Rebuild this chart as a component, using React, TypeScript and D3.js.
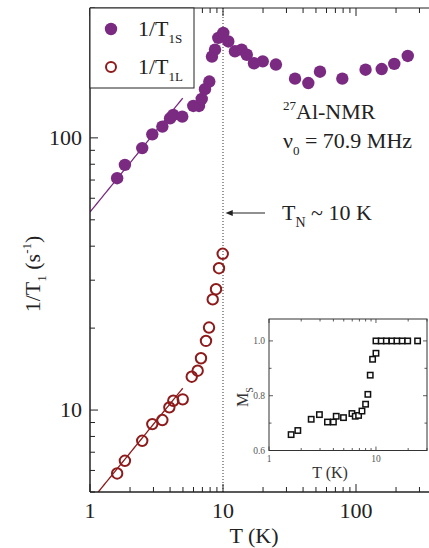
import React from 'react';
import * as d3 from 'd3';

// 1/T1S (purple, filled)
const sT = [1.60, 1.83, 2.47, 2.94, 3.50, 4.0, 4.23, 4.94, 5.98, 6.6, 6.92, 7.32, 7.89, 8.26, 8.71, 9.22, 10.05, 10.96, 12.3, 13.8, 15.1, 17.1, 19.9, 25.0, 34.8, 43.8, 53.6, 78.9, 118, 156, 194, 245];
const sV = [71.1, 79.6, 91.7, 103, 110, 118, 121.5, 119.7, 131, 131, 139, 151, 161, 199, 211, 233, 243, 226, 208, 211, 202, 188, 191, 186, 165, 159, 175, 165, 178, 179, 187, 200];
// 1/T1L (red, open)
const lT = [1.60, 1.83, 2.47, 2.94, 3.50, 3.95, 4.23, 4.98, 5.82, 6.45, 6.83, 7.45, 7.85, 8.37, 8.86, 9.33, 9.95];
const lV = [5.85, 6.51, 7.71, 8.88, 9.19, 10.23, 10.82, 10.95, 13.26, 13.95, 15.5, 17.95, 20.1, 25.5, 27.8, 33.2, 37.5];
// power-law fits  A * T^0.6
const fitS = { a: 53.4, p: 0.6, t0: 1, t1: 4.98 };
const fitL = { a: 4.59, p: 0.6, t0: 1.0, t1: 4.98 };
// inset M_S
const iT = [1.61, 1.86, 2.48, 2.96, 3.52, 4.0, 4.25, 4.97, 5.96, 6.4, 6.88, 7.4, 8.0, 8.4, 8.84, 9.3, 10.0, 10.0, 11.2, 12.5, 14.1, 15.7, 17.6, 19.8, 24.5];
const iM = [0.658, 0.673, 0.714, 0.731, 0.704, 0.704, 0.725, 0.72, 0.735, 0.725, 0.728, 0.744, 0.769, 0.805, 0.875, 0.933, 0.955, 1.0, 1.0, 1.0, 1.0, 1.0, 1.0, 1.0, 1.0];

const xTickLabels = [1, 10, 100];
const yTickLabels = [10, 100];
const insetYLabels = [0.6, 0.8, 1.0];
const insetXLabels = [1, 10];

const PURPLE = '#7b2a82';
const RED = '#8e1b1b';
const FONT = '"Liberation Serif", "Times New Roman", serif';

export default function App() {
  const W = 429, H = 548;
  const x = d3.scaleLog().domain([1, 400]).range([90, 90 + 133 * Math.log10(400)]);
  const y = d3.scaleLog().domain([5, 300]).range([492, 8]);
  const xi = d3.scaleLog().domain([1, 30]).range([269, 427]);
  const yi = d3.scaleLinear().domain([0.6, 1.08]).range([450.5, 319]);

  const xMinor: number[] = [];
  [1, 10, 100].forEach((d) => { for (let k = 1; k <= 9; k++) { const v = d * k; if (v <= 400) xMinor.push(v); } });
  const yMinor: number[] = [];
  [1, 10, 100].forEach((d) => { for (let k = 1; k <= 9; k++) { const v = d * k; if (v >= 5 && v <= 300) yMinor.push(v); } });
  const xiTicks: number[] = [];
  [1, 10].forEach((d) => { for (let k = 1; k <= 9; k++) { const v = d * k; if (v <= 30) xiTicks.push(v); } });
  const yiTicks = [0.6, 0.7, 0.8, 0.9, 1.0];

  const fitLine = (f: { a: number; p: number; t0: number; t1: number }) => {
    const pts = d3.range(0, 41).map((i) => f.t0 * Math.pow(f.t1 / f.t0, i / 40));
    return d3.line<number>().x((t) => x(t)).y((t) => y(f.a * Math.pow(t, f.p)))(pts) || '';
  };

  const isMajor = (v: number) => Math.abs(Math.log10(v) - Math.round(Math.log10(v))) < 1e-9;

  return (
    <svg width={W} height={H} style={{ position: 'absolute', left: 0, top: 0, background: '#fff' }} fontFamily={FONT}>
      <defs>
        <clipPath id="plotclip"><rect x={90} y={8} width={W - 90} height={484} /></clipPath>
        <marker id="arr" viewBox="0 0 10 10" refX="1" refY="5" markerWidth="8" markerHeight="6" orient="auto-start-reverse">
          <path d="M0,1 L10,5 L0,9 z" fill="#222" />
        </marker>
      </defs>

      {/* dotted TN line */}
      <line x1={x(10)} x2={x(10)} y1={8} y2={492} stroke="#333" strokeWidth={1} strokeDasharray="1,2" />

      {/* fits */}
      <g clipPath="url(#plotclip)">
        <path d={fitLine(fitS)} fill="none" stroke={PURPLE} strokeWidth={1.3} />
        <path d={fitLine(fitL)} fill="none" stroke={RED} strokeWidth={1.3} />
      </g>

      {/* data */}
      <g clipPath="url(#plotclip)">
        {sT.map((t, i) => (
          <circle key={'s' + i} cx={x(t)} cy={y(sV[i])} r={6.2} fill={PURPLE} />
        ))}
        {lT.map((t, i) => (
          <circle key={'l' + i} cx={x(t)} cy={y(lV[i])} r={5.2} fill="none" stroke={RED} strokeWidth={2} />
        ))}
      </g>

      {/* axes frame */}
      <line x1={90} x2={W} y1={492} y2={492} stroke="#222" strokeWidth={1.5} />
      <line x1={90} x2={W} y1={8} y2={8} stroke="#222" strokeWidth={1.2} />
      <line x1={90} x2={90} y1={8} y2={492} stroke="#222" strokeWidth={1.5} />

      {/* x ticks */}
      {xMinor.map((v, i) => {
        const L = isMajor(v) ? 8 : 5;
        return (
          <g key={'xt' + i}>
            <line x1={x(v)} x2={x(v)} y1={492} y2={492 - L} stroke="#222" strokeWidth={1} />
            <line x1={x(v)} x2={x(v)} y1={8} y2={8 + L} stroke="#222" strokeWidth={1} />
          </g>
        );
      })}
      {yMinor.map((v, i) => {
        const L = isMajor(v) ? 8 : 5;
        return <line key={'yt' + i} x1={90} x2={90 + L} y1={y(v)} y2={y(v)} stroke="#222" strokeWidth={1} />;
      })}
      {xTickLabels.map((v) => (
        <text key={'xl' + v} x={x(v)} y={518} textAnchor="middle" fontSize={22} fill="#222">{v}</text>
      ))}
      {yTickLabels.map((v) => (
        <text key={'yl' + v} x={82} y={y(v) + 7} textAnchor="end" fontSize={22} fill="#222">{v}</text>
      ))}
      <text x={254} y={543} textAnchor="middle" fontSize={22} fill="#222">T (K)</text>
      <text transform="translate(40,274) rotate(-90)" textAnchor="middle" fontSize={22} fill="#222">
        1/T<tspan fontSize={13} dy={6}>1</tspan><tspan dy={-6}> (</tspan><tspan>s</tspan><tspan fontSize={13} dy={-9}>-1</tspan><tspan dy={9}>)</tspan>
      </text>

      {/* legend */}
      <rect x={90} y={8} width={104} height={80} fill="#fff" stroke="#222" strokeWidth={1} />
      <circle cx={111} cy={29} r={6.2} fill={PURPLE} />
      <text x={138} y={36} fontSize={22} fill="#222">1/T<tspan fontSize={13} dy={7}>1S</tspan></text>
      <circle cx={111} cy={67} r={5} fill="none" stroke={RED} strokeWidth={2} />
      <text x={138} y={74} fontSize={22} fill="#222">1/T<tspan fontSize={13} dy={7}>1L</tspan></text>

      {/* annotations */}
      <text x={283} y={119} fontSize={22} fill="#222"><tspan fontSize={13} dy={-9}>27</tspan><tspan dy={9}>Al-NMR</tspan></text>
      <text x={283} y={148} fontSize={22} fill="#222">ν<tspan fontSize={13} dy={7}>0</tspan><tspan dy={-7}> = 70.9 MHz</tspan></text>
      <line x1={265} x2={232} y1={213} y2={213} stroke="#222" strokeWidth={1.2} markerEnd="url(#arr)" />
      <text x={282} y={220} fontSize={22} fill="#222">T<tspan fontSize={14} dy={7}>N</tspan><tspan dy={-7}> ~ 10 K</tspan></text>

      {/* inset */}
      <g>
        <rect x={269} y={319} width={158} height={131.5} fill="#fff" stroke="#333" strokeWidth={1} />
        {xiTicks.map((v, i) => {
          const L = isMajor(v) ? 4 : 2.5;
          return (
            <g key={'ixt' + i}>
              <line x1={xi(v)} x2={xi(v)} y1={450.5} y2={450.5 - L} stroke="#333" strokeWidth={0.8} />
              <line x1={xi(v)} x2={xi(v)} y1={319} y2={319 + L} stroke="#333" strokeWidth={0.8} />
            </g>
          );
        })}
        {yiTicks.map((v, i) => {
          const L = Math.abs(v * 10 % 2) < 1e-6 || Math.abs(v * 10 % 2 - 2) < 1e-6 ? 4 : 2.5;
          return (
            <g key={'iyt' + i}>
              <line x1={269} x2={269 + L} y1={yi(v)} y2={yi(v)} stroke="#333" strokeWidth={0.8} />
              <line x1={427} x2={427 - L} y1={yi(v)} y2={yi(v)} stroke="#333" strokeWidth={0.8} />
            </g>
          );
        })}
        {insetYLabels.map((v) => (
          <text key={'iyl' + v} x={265} y={yi(v) + 3} textAnchor="end" fontSize={9.5} fill="#555">{v.toFixed(1)}</text>
        ))}
        {insetXLabels.map((v) => (
          <text key={'ixl' + v} x={xi(v)} y={462} textAnchor="middle" fontSize={9.5} fill="#555">{v}</text>
        ))}
        <text x={330} y={478} textAnchor="middle" fontSize={16} fill="#333">T (K)</text>
        <text transform="translate(248,397) rotate(-90)" textAnchor="middle" fontSize={16} fill="#333">
          M<tspan fontSize={10} dy={5}>S</tspan>
        </text>
        {iT.map((t, i) => (
          <rect key={'sq' + i} x={xi(t) - 2.7} y={yi(iM[i]) - 2.7} width={5.4} height={5.4} fill="#fff" stroke="#111" strokeWidth={1.5} />
        ))}
      </g>
    </svg>
  );
}
